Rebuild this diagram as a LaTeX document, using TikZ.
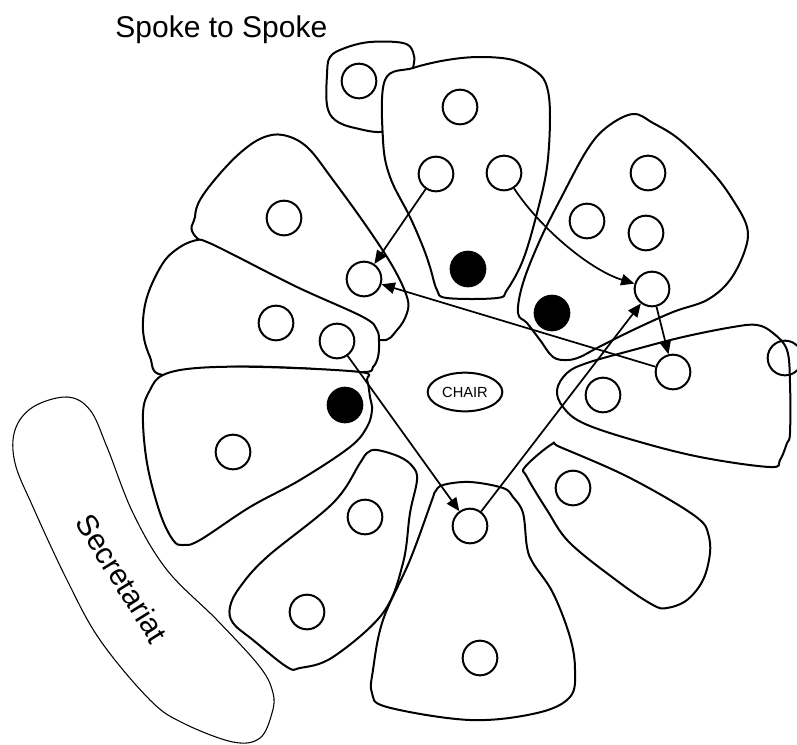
\documentclass[tikz,border=0pt]{standalone}
\usepackage{fontspec}
\setmainfont{Liberation Sans}
\usetikzlibrary{arrows.meta,shapes.geometric}

\begin{document}
\begin{tikzpicture}[x=0.75pt, y=-0.75pt, line width=1.5pt,
    blob/.style={draw,fill=white,line join=round},
    seat/.style={circle,draw,minimum size=26pt,inner sep=0pt},
    taken/.style={circle,fill=black,minimum size=27.5pt,inner sep=0pt},
    link/.style={line width=1.3pt,-{Triangle[length=10pt,width=8.5pt]}}]
  \useasboundingbox (0,0) rectangle (797,744);
  \node[anchor=base west,font=\fontsize{22.5}{27}\selectfont] (title) at (110,37) {Spoke to Spoke};
  % secretariat
  \draw[line width=0.8pt] plot[smooth cycle,tension=0.6] coordinates {(67,397) (33,407) (15,430) (15,463) (33,507) (67,580) (100,640) (150,700) (183,723) (233,742) (260,738) (272,713) (273,693) (260,667) (217,620) (167,570) (133,513) (107,447) (90,410)};
  \node[rotate=-58,inner sep=0pt,font=\fontsize{22.5}{27}\selectfont] (sec) at (122,578) {Secretariat};
  % spokes, back to front
  \draw[blob] plot[smooth cycle,tension=0.6] coordinates {(413,68) (413,52) (403,43) (370,42) (345,48) (330,57) (327,75) (327,105) (335,120) (355,128) (385,131) (400,110)};
  \draw[blob] plot[smooth cycle,tension=0.6] coordinates {(385,80) (383,140) (390,177) (410,217) (423,247) (430,267) (437,290) (447,298) (497,298) (507,290) (523,260) (537,213) (547,167) (550,117) (547,87) (537,72) (513,60) (480,57) (447,60) (413,68)};
  \draw[blob] plot[smooth cycle,tension=0.6] coordinates {(633,114) (607,127) (587,150) (560,200) (540,240) (523,283) (518,313) (527,323) (540,340) (553,357) (567,360) (580,357) (597,348) (633,330) (673,312) (707,300) (730,280) (745,250) (747,227) (733,200) (713,173) (680,140) (653,123)};
  \draw[blob] plot[smooth cycle,tension=0.6] coordinates {(283,135) (307,147) (333,180) (367,227) (393,267) (407,297) (407,313) (397,330) (380,340) (330,320) (260,280) (197,238) (195,217) (200,200) (217,177) (240,153) (262,138)};
  \draw[blob] plot[smooth cycle,tension=0.6] coordinates {(197,240) (207,242) (230,253) (297,287) (363,317) (377,330) (379,343) (378,357) (373,367) (363,372) (297,368) (230,367) (163,375) (150,357) (143,330) (147,297) (163,263) (180,247)};
  \draw[blob] plot[smooth cycle,tension=0.6] coordinates {(163,375) (197,368) (263,367) (360,372) (367,380) (370,397) (372,410) (367,427) (350,447) (300,480) (250,507) (200,540) (183,545) (173,540) (160,513) (147,463) (143,413) (150,390)};
  \draw[blob] plot[smooth cycle,tension=0.6] coordinates {(377,450) (367,453) (360,463) (333,503) (267,557) (240,587) (230,607) (233,623) (253,640) (287,667) (300,668) (333,657) (383,613) (403,563) (410,513) (417,480) (413,467) (400,457)};
  \draw[blob] plot[smooth cycle,tension=0.6] coordinates {(470,482) (443,485) (435,492) (432,500) (410,560) (383,620) (373,670) (372,693) (387,707) (470,720) (537,713) (570,697) (575,670) (570,637) (553,593) (533,563) (527,547) (523,513) (513,497) (503,488)};
  \draw[blob] plot[smooth cycle,tension=0.6] coordinates {(552,444) (525,467) (527,477) (547,510) (570,543) (620,583) (653,605) (667,608) (687,600) (703,580) (710,553) (708,533) (700,520) (670,500) (620,473) (560,447)};
  \draw[blob] plot[smooth cycle,tension=0.6] coordinates {(557,390) (567,373) (587,363) (633,350) (683,337) (733,327) (757,325) (773,333) (787,350) (790,383) (790,433) (787,443) (780,460) (770,467) (700,457) (633,440) (583,423) (563,407)};
  % seats
  \node[seat] (a1) at (359,81) {};
  \node[seat] (b1) at (460,107) {};
  \node[seat] (b2) at (436,174) {};
  \node[seat] (b3) at (504,173) {};
  \node[taken] (b4) at (468,269) {};
  \node[seat] (c1) at (648,173) {};
  \node[seat] (c2) at (587,221) {};
  \node[seat] (c3) at (646,233) {};
  \node[seat] (c4) at (652,289) {};
  \node[taken] (c5) at (552,313) {};
  \node[seat] (d1) at (284,218) {};
  \node[seat] (d2) at (364,279) {};
  \node[seat] (e1) at (276,323) {};
  \node[seat] (e2) at (337,341) {};
  \node[taken] (f1) at (345,405) {};
  \node[seat] (f2) at (233,452) {};
  \node[seat] (g1) at (365,517) {};
  \node[seat] (g2) at (307,612) {};
  \node[seat] (h1) at (470,526) {};
  \node[seat] (h2) at (480,658) {};
  \node[seat] (i1) at (573,488) {};
  \node[seat] (j1) at (673,372) {};
  \node[seat] (j2) at (603,395) {};
  \node[seat] (j3) at (785,358) {};
  \node[ellipse,draw,minimum width=56pt,minimum height=29pt,inner sep=0pt,font=\fontsize{11}{13}\selectfont] (chair) at (465,392) {CHAIR};
  % spoke to spoke
  \draw[link] (b2) -- (d2);
  \draw[link] (b3) .. controls (540,228) and (590,270) .. (c4);
  \draw[link] (c4) -- (j1);
  \draw[link] (j1) -- (d2);
  \draw[link] (e2) -- (h1);
  \draw[link] (h1) -- (c4);
\end{tikzpicture}
\end{document}
